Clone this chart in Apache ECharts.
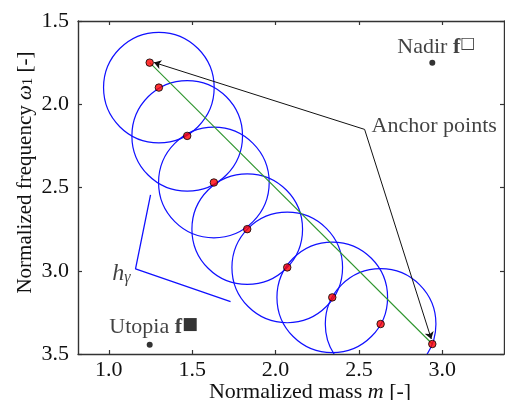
<!DOCTYPE html>
<html><head><meta charset="utf-8">
<script src="https://cdn.jsdelivr.net/npm/echarts@6/dist/echarts.min.js"></script>
<style>html,body{margin:0;padding:0;background:#fff}#c{width:505px;height:400px}</style>
</head><body><div id="c"></div>
<script>
// ---- data ----
const xTicks = [1.0, 1.5, 2.0, 2.5, 3.0];
const yTicks = [1.5, 2.0, 2.5, 3.0, 3.5];
const pointX = [1.245, 1.30, 1.47, 1.63, 1.83, 2.07, 2.34, 2.63, 2.94];
const pointY = [1.75, 1.90, 2.19, 2.47, 2.75, 2.98, 3.16, 3.32, 3.44];
const circleX = [1.30, 1.47, 1.63, 1.83, 2.07, 2.34, 2.63];
const circleY = [1.90, 2.19, 2.47, 2.75, 2.98, 3.16, 3.32];
const circleR = [0.332, 0.332, 0.332, 0.332, 0.332, 0.332, 0.332];
const anchorX = [1.245, 2.94];
const anchorY = [1.75, 3.44];
const calloutX = [2.534];
const calloutY = [2.151];
const arrowTipX = [1.271, 2.934];
const arrowTipY = [1.749, 3.41];
const hGammaX = [1.25, 1.16, 1.73];
const hGammaY = [2.545, 2.989, 3.186];
const nadirX = [2.94], nadirY = [1.75];
const utopiaX = [1.245], utopiaY = [3.444];

const FONT = 'Liberation Serif';
const FS = 22;
const TXT = '#111';
const axisColor = '#333';

const chart = echarts.init(document.getElementById('c'));
const tickStyle = {color: axisColor, width: 1.2};
const lineStyleAxis = {color: axisColor, width: 1.4};

const option = {
  animation: false,
  grid: {left: 78, right: 1, top: 21, bottom: 46, containLabel: false, outerBoundsMode: 'none'},
  xAxis: [
    {type: 'value', min: 0.815, max: 3.37, position: 'bottom',
     axisLine: {show: true, onZero: false, lineStyle: lineStyleAxis},
     axisTick: {show: true, inside: true, length: 4, customValues: xTicks, lineStyle: tickStyle},
     axisLabel: {customValues: xTicks, formatter: v => v.toFixed(1), fontFamily: FONT, fontSize: FS, color: TXT, margin: 5},
     splitLine: {show: false},
     name: 'Normalized mass {i|m} [-]', nameLocation: 'middle', nameGap: 27, nameMoveOverlap: false,
     nameTextStyle: {fontFamily: FONT, fontSize: FS, color: TXT, padding: [0, 0, 0, 38],
       rich: {i: {fontFamily: FONT, fontSize: FS, fontStyle: 'italic', color: TXT}}}},
    {type: 'value', min: 0.815, max: 3.37, position: 'top',
     axisLine: {show: true, onZero: false, lineStyle: lineStyleAxis},
     axisTick: {show: true, inside: true, length: 4, customValues: xTicks, lineStyle: tickStyle},
     axisLabel: {show: false}, splitLine: {show: false}}
  ],
  yAxis: [
    {type: 'value', min: 1.5, max: 3.5, interval: 0.5, inverse: true, position: 'left',
     axisLine: {show: true, onZero: false, lineStyle: lineStyleAxis},
     axisTick: {show: true, inside: true, length: 4, customValues: yTicks, lineStyle: tickStyle},
     axisLabel: {customValues: yTicks, formatter: v => v.toFixed(1), fontFamily: FONT, fontSize: FS, color: TXT, margin: 9},
     splitLine: {show: false},
     name: 'Normalized frequency {i|ω}{s|1} [-]', nameLocation: 'middle', nameGap: 42, nameMoveOverlap: false,
     nameTextStyle: {fontFamily: FONT, fontSize: 21, color: TXT, padding: [0, 0, 0, 30],
       rich: {i: {fontFamily: FONT, fontSize: 21, fontStyle: 'italic', color: TXT},
              s: {fontFamily: FONT, fontSize: 15, color: TXT, verticalAlign: 'bottom'}}}},
    {type: 'value', min: 1.5, max: 3.5, interval: 0.5, inverse: true, position: 'right',
     axisLine: {show: true, onZero: false, lineStyle: lineStyleAxis},
     axisTick: {show: true, inside: true, length: 4, customValues: yTicks, lineStyle: tickStyle},
     axisLabel: {show: false}, splitLine: {show: false}}
  ],
  series: [
    {type: 'custom', name: 'circles', z: 2,
     data: circleX.map((x, i) => [x, circleY[i], circleR[i]]),
     encode: {x: 0, y: 1},
     renderItem: (params, api) => {
       const c = api.coord([api.value(0), api.value(1)]);
       const s = api.size([api.value(2), api.value(2)]);
       const cs = params.coordSys;
       return {type: 'circle', shape: {cx: c[0], cy: c[1], r: (s[0] + s[1]) / 2},
         style: {fill: 'none', stroke: '#1010ff', lineWidth: 1.2},
         clipPath: {type: 'rect', shape: {x: cs.x, y: cs.y, width: cs.width, height: cs.height}}};
     }},
    {type: 'line', name: 'front', z: 3, symbol: 'none',
     data: anchorX.map((x, i) => [x, anchorY[i]]),
     lineStyle: {color: '#2e952e', width: 1.1}},
    {type: 'lines', coordinateSystem: 'cartesian2d', z: 4,
     symbol: ['none', 'arrow'], symbolSize: [0, 7],
     lineStyle: {color: '#111', width: 1, opacity: 1},
     data: arrowTipX.map((x, i) => ({coords: [[calloutX[0], calloutY[0]], [x, arrowTipY[i]]]}))},
    {type: 'line', name: 'hgamma', z: 3, symbol: 'none',
     data: hGammaX.map((x, i) => [x, hGammaY[i]]),
     lineStyle: {color: '#1010ff', width: 1.3}},
    {type: 'scatter', z: 5, symbolSize: 0,
     data: [[hGammaX[1], hGammaY[1]]],
     label: {show: true, position: 'left', distance: 3, offset: [-2, 5],
       formatter: '{h|h}{g|γ}',
       rich: {h: {fontFamily: FONT, fontSize: 24, fontStyle: 'italic', color: TXT},
              g: {fontFamily: FONT, fontSize: 16, fontStyle: 'italic', color: TXT, verticalAlign: 'bottom'}}}},
    {type: 'scatter', z: 6, symbol: 'circle', symbolSize: 7.5,
     data: pointX.map((x, i) => [x, pointY[i]]),
     itemStyle: {color: '#ff0000', borderColor: '#000', borderWidth: 1}},
    {type: 'scatter', z: 6, symbol: 'circle', symbolSize: 0,
     data: [[calloutX[0], calloutY[0]]],
     label: {show: true, position: 'right', distance: 7, offset: [0, -3], formatter: 'Anchor points',
       fontFamily: FONT, fontSize: FS, color: TXT}},
    {type: 'scatter', z: 6, symbol: 'circle', symbolSize: 6,
     data: [[nadirX[0], nadirY[0]]], itemStyle: {color: '#000'},
     label: {show: true, position: 'top', distance: 0, offset: [4, 0],
       formatter: '{a|Nadir }{b|f}{c|□}',
       rich: {a: {fontFamily: FONT, fontSize: FS, color: TXT, lineHeight: 24},
              b: {fontFamily: FONT, fontSize: FS, fontWeight: 'bold', color: TXT, lineHeight: 24},
              c: {fontFamily: 'DejaVu Sans', fontSize: 16, color: TXT, verticalAlign: 'top'}}}},
    {type: 'scatter', z: 6, symbol: 'circle', symbolSize: 6,
     data: [[utopiaX[0], utopiaY[0]]], itemStyle: {color: '#000'},
     label: {show: true, position: 'top', distance: 2, offset: [4, 0],
       formatter: '{a|Utopia }{b|f}{c|■}',
       rich: {a: {fontFamily: FONT, fontSize: FS, color: TXT, lineHeight: 24},
              b: {fontFamily: FONT, fontSize: FS, fontWeight: 'bold', color: TXT, lineHeight: 24},
              c: {fontFamily: 'DejaVu Sans', fontSize: 17, color: '#000', verticalAlign: 'top'}}}}
  ]
};
chart.setOption(option);
</script></body></html>
